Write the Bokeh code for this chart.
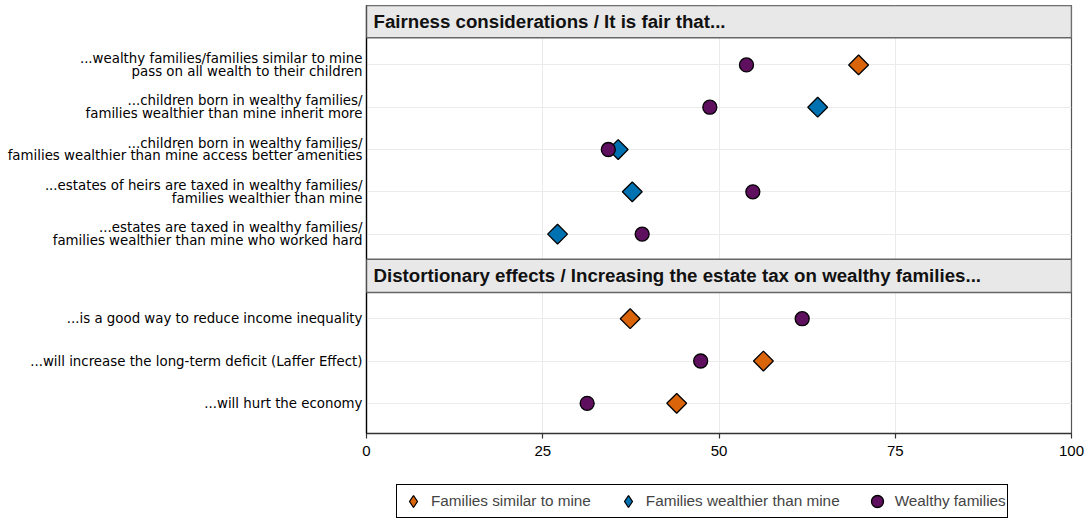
import math
from bokeh.plotting import figure
from bokeh.layouts import column
from bokeh.models import (Range1d, FixedTicker, BoxAnnotation, Label, Legend,
                          LegendItem, ColumnDataSource)
from bokeh.embed import file_html
from bokeh.resources import INLINE

# ---------------- data ----------------
fair_title = "Fairness considerations / It is fair that..."
dist_title = "Distortionary effects / Increasing the estate tax on wealthy families..."

fair_labels = [
    "...wealthy families/families similar to mine\npass on all wealth to their children",
    "...children born in wealthy families/\nfamilies wealthier than mine inherit more",
    "...children born in wealthy families/\nfamilies wealthier than mine access better amenities",
    "...estates of heirs are taxed in wealthy families/\nfamilies wealthier than mine",
    "...estates are taxed in wealthy families/\nfamilies wealthier than mine who worked hard",
]
fair_similar = [69.8, None, None, None, None]
fair_wealthier = [None, 64.0, 35.7, 37.7, 27.1]
fair_wealthy = [53.9, 48.7, 34.3, 54.8, 39.1]

dist_labels = [
    "...is a good way to reduce income inequality",
    "...will increase the long-term deficit (Laffer Effect)",
    "...will hurt the economy",
]
dist_similar = [37.4, 56.3, 44.0]
dist_wealthier = [None, None, None]
dist_wealthy = [61.8, 47.4, 31.3]

series_names = ["Families similar to mine", "Families wealthier than mine", "Wealthy families"]
x_ticks = [0, 25, 50, 75, 100]

# ---------------- layout (row positions) ----------------
TOP0, STEP, BOT0 = 4, 3, 22
ys_fair = [TOP0 + STEP * i for i in range(len(fair_labels))]
ys_dist = [BOT0 + STEP * i for i in range(len(dist_labels))]

def pts(vals_a, ys_a, vals_b, ys_b):
    xs, ys = [], []
    for v, y in list(zip(vals_a, ys_a)) + list(zip(vals_b, ys_b)):
        if v is not None:
            xs.append(v)
            ys.append(y)
    return ColumnDataSource(dict(x=xs, y=ys))

src_similar = pts(fair_similar, ys_fair, dist_similar, ys_dist)
src_wealthier = pts(fair_wealthier, ys_fair, dist_wealthier, ys_dist)
src_wealthy = pts(fair_wealthy, ys_fair, dist_wealthy, ys_dist)

FONT = "Liberation Sans"
LABEL_FONT = "DejaVu Sans"
Y_TOP, Y_BOTTOM = -0.214, 30.14
ORANGE, BLUE, PURPLE = "#D9640A", "#0072B2", "#5E0F5E"

p = figure(width=1087, height=463, output_backend="svg", toolbar_location=None,
           x_range=Range1d(0, 100), y_range=Range1d(Y_BOTTOM, Y_TOP),
           min_border_left=366, min_border_right=16, min_border_top=5,
           min_border_bottom=30)
p.background_fill_color = "white"
p.border_fill_color = "white"
p.outline_line_color = "#555555"
p.outline_line_width = 1.2

# grids
p.xgrid.ticker = FixedTicker(ticks=[25, 50, 75])
p.xgrid.grid_line_color = "#ebebeb"
p.ygrid.grid_line_color = "#ebebeb"
p.ygrid.grid_line_width = 1.2

# axes
p.xaxis.ticker = FixedTicker(ticks=x_ticks)
p.xaxis.axis_line_color = "#333333"
p.xaxis.axis_line_width = 1.3
p.xaxis.major_tick_line_color = "#333333"
p.xaxis.major_tick_line_width = 1.2
p.xaxis.major_tick_out = 5
p.xaxis.major_tick_in = 0
p.xaxis.minor_tick_line_color = None
p.xaxis.major_label_text_font = FONT
p.xaxis.major_label_text_font_size = "15px"
p.xaxis.major_label_text_color = "black"
p.xaxis.major_label_standoff = 7

p.yaxis.ticker = FixedTicker(ticks=ys_fair + ys_dist)
p.yaxis.major_label_overrides = {y: lab for y, lab in zip(ys_fair + ys_dist, fair_labels + dist_labels)}
p.yaxis.axis_line_color = "black"
p.yaxis.axis_line_width = 1.3
p.yaxis.major_tick_line_color = None
p.yaxis.minor_tick_line_color = None
p.yaxis.major_tick_out = 0
p.yaxis.major_tick_in = 0
p.yaxis.major_label_text_font = LABEL_FONT
p.yaxis.major_label_text_font_size = "13.35px"
p.yaxis.major_label_text_line_height = 0.86
p.yaxis.major_label_text_color = "black"
p.yaxis.major_label_standoff = 4

# strip headers
for top, bottom, title, ymid in [(Y_TOP, 2.07, fair_title, 0.93), (17.79, 20.14, dist_title, 18.96)]:
    p.add_layout(BoxAnnotation(top=top, bottom=bottom, fill_color="#e8e8e8", fill_alpha=1,
                               line_color="#666666", line_width=1.5, line_alpha=1))
    p.add_layout(Label(x=0, y=ymid, x_offset=7, text=title, text_font=FONT,
                       text_font_style="bold", text_font_size="18.7px",
                       text_baseline="middle", text_color="#111111"))

def draw(fig, s1, s2, s3, dmarker="square", angle=math.pi / 4):
    a = fig.scatter("x", "y", source=s1, marker=dmarker, angle=angle,
                    size=14, fill_color=ORANGE, line_color="black", line_width=1.3)
    b = fig.scatter("x", "y", source=s2, marker=dmarker, angle=angle,
                    size=14, fill_color=BLUE, line_color="black", line_width=1.3)
    c = fig.scatter("x", "y", source=s3, marker="circle",
                    size=14, fill_color=PURPLE, line_color="black", line_width=1.3)
    return a, b, c

draw(p, src_similar, src_wealthier, src_wealthy)

# legend strip (separate figure below the plot; its ranges keep the points out of view)
q = figure(width=1087, height=55, output_backend="svg", toolbar_location=None,
           x_range=Range1d(-2, -1), y_range=Range1d(-2, -1),
           x_axis_location=None, y_axis_location=None, min_border=0)
q.grid.visible = False
q.outline_line_color = None
q.background_fill_color = "white"
q.border_fill_color = "white"
l1, l2, l3 = draw(q, src_similar, src_wealthier, src_wealthy, dmarker="diamond", angle=0)

legend = Legend(items=[LegendItem(label=series_names[0], renderers=[l1]),
                       LegendItem(label=series_names[1], renderers=[l2]),
                       LegendItem(label=series_names[2], renderers=[l3])],
                orientation="horizontal", location=(30, 0),
                border_line_color="black", border_line_width=1.2, border_line_alpha=1,
                label_text_font=FONT, label_text_font_size="15.3px",
                padding=1, spacing=22, label_standoff=3,
                glyph_width=30, glyph_height=30, margin=0)
q.add_layout(legend, "center")

layout = column(p, q, spacing=0)
open("out.html", "w").write(file_html(layout, INLINE))
